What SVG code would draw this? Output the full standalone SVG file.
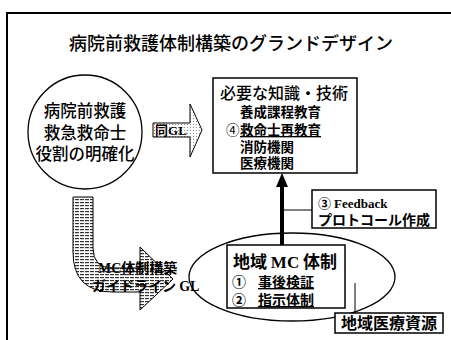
<svg xmlns="http://www.w3.org/2000/svg" width="451" height="340" viewBox="0 0 451 340">
<defs>
<pattern id="hatch" width="5" height="3" patternUnits="userSpaceOnUse">
<rect width="5" height="3" fill="#fff"/>
<rect x="0" y="1" width="4" height="1.2" fill="#333"/>
</pattern>
<pattern id="dots" width="3" height="3" patternUnits="userSpaceOnUse">
<rect width="3" height="3" fill="#fff"/>
<rect x="1" y="1" width="1" height="1" fill="#888"/>
</pattern>
</defs>
<style>
.jp{font-family:"Noto Sans CJK JP","Noto Sans CJK SC",sans-serif;fill:#000}
.m{font-weight:500}
.b{font-weight:bold}
.s{font-family:"Liberation Serif",serif;font-weight:bold}
.ln{fill:none;stroke:#000;stroke-width:1.3}
.box{fill:#fff;stroke:#000;stroke-width:1.5}
</style>
<rect width="451" height="340" fill="#fff"/>
<path d="M7,340 L7,13 L451,13" fill="none" stroke="#000" stroke-width="2"/>
<text class="jp m" x="231" y="50" font-size="18" text-anchor="middle">病院前救護体制構築のグランドデザイン</text>

<g id="connectors">
<path d="M153,123 L190,123 L190,104 L202,130 L190,157 L190,137 L153,137 Z" fill="url(#dots)" stroke="#000" stroke-width="1"/>
<text class="jp b" x="155" y="135" font-size="13">同<tspan class="s">GL</tspan></text>
<path d="M73,197 L93,197 L93,248 Q93,268 113,268 L140,268 L140,247 L173,279 L140,310 L140,292 L113,292 Q73,292 73,252 Z" fill="url(#hatch)" stroke="#000" stroke-width="1"/>
<text class="jp b" x="98" y="273" font-size="14"><tspan class="s">MC</tspan>体制構築</text>
<text class="jp b" x="92" y="291" font-size="14">ガイドライン <tspan class="s">GL</tspan></text>
<line x1="282" y1="245" x2="282" y2="184" stroke="#000" stroke-width="4"/>
<polygon points="282,173 276,187 288,187" fill="#000"/>
<line x1="284" y1="210" x2="312" y2="210" stroke="#000" stroke-width="1"/>
<line x1="355" y1="283" x2="355" y2="313" stroke="#000" stroke-width="1"/>
</g>

<g id="circle">
<circle cx="85" cy="132" r="57" class="ln"/>
<text class="jp m" x="85" y="117" font-size="16.5" text-anchor="middle">病院前救護</text>
<text class="jp m" x="85" y="139" font-size="16.5" text-anchor="middle">救急救命士</text>
<text class="jp m" x="85" y="160" font-size="16.5" text-anchor="middle">役割の明確化</text>
</g>

<g id="knowledge">
<rect x="213" y="78" width="144" height="95" class="box"/>
<text class="jp m" x="220" y="99" font-size="16">必要な知識・技術</text>
<text class="jp b" x="240" y="117" font-size="13.5">養成課程教育</text>
<text class="jp" x="226" y="135" font-size="13.5">④</text>
<text class="jp b" x="240" y="135" font-size="13.5" text-decoration="underline">救命士再教育</text>
<text class="jp b" x="240" y="152" font-size="13.5">消防機関</text>
<text class="jp b" x="240" y="168" font-size="13.5">医療機関</text>
</g>

<g id="feedback">
<rect x="312" y="190" width="124" height="38" class="box"/>
<text class="jp b" x="318" y="208" font-size="13">③ <tspan class="s">Feedback</tspan></text>
<text class="jp b" x="318" y="225" font-size="14">プロトコール作成</text>
</g>

<g id="region">
<ellipse cx="292" cy="277" rx="103" ry="44" class="ln"/>
<rect x="227" y="245" width="118" height="63" class="box"/>
<text class="jp b" x="233" y="268" font-size="17">地域 <tspan class="s">MC</tspan> 体制</text>
<text class="jp b" x="232" y="287" font-size="14">①</text>
<text class="jp b" x="258" y="287" font-size="14" text-decoration="underline">事後検証</text>
<text class="jp b" x="232" y="305" font-size="14">②</text>
<text class="jp b" x="258" y="305" font-size="14" text-decoration="underline">指示体制</text>
</g>

<g id="resources">
<rect x="335" y="313" width="108" height="20" class="box"/>
<text class="jp b" x="341" y="329" font-size="16">地域医療資源</text>
</g>
</svg>
